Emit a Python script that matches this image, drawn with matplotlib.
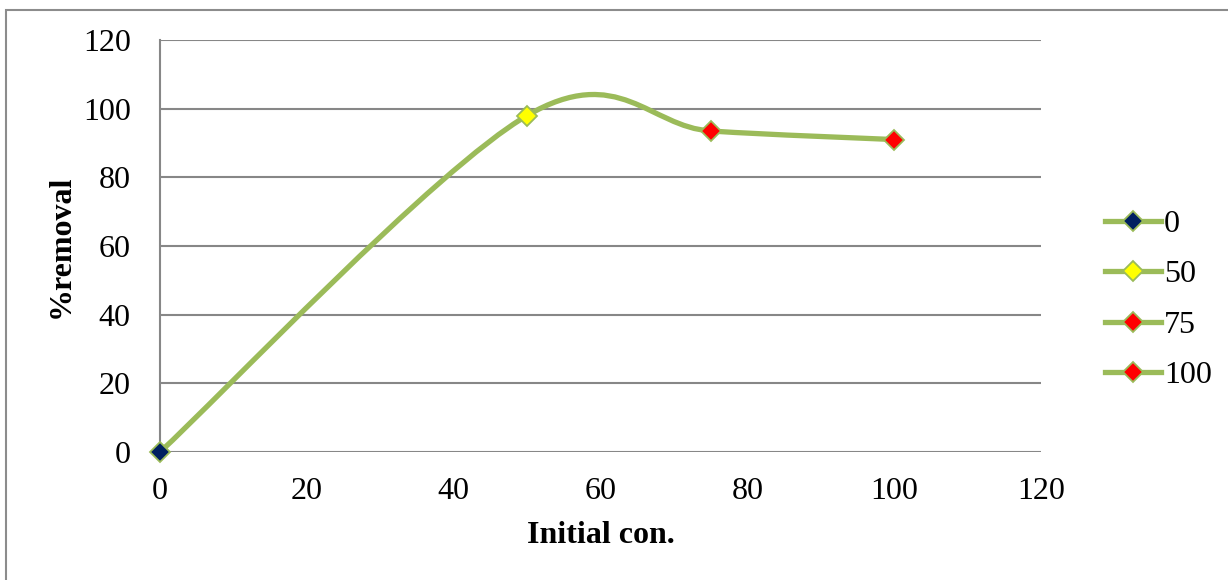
import matplotlib.pyplot as plt
from matplotlib.path import Path
from matplotlib.patches import PathPatch, Rectangle

# data
x_values = [0, 50, 75, 100]
y_values = [0, 98, 93.5, 91]
labels = ['0', '50', '75', '100']
marker_colors = ['#002060', '#FFFF00', '#FF0000', '#FF0000']

line_color = '#9BBB59'
grid_color = '#878787'

plt.rcParams['font.family'] = ['Liberation Serif', 'DejaVu Serif']

fig = plt.figure(figsize=(12.28, 5.80), dpi=100)
ax = fig.add_axes([160 / 1228, 1 - 452 / 580, 881 / 1228, 412 / 580])

# outer chart frame (right and bottom edges are cut off in the original)
fig.patches.append(Rectangle((6 / 1228, -0.05), 1.1, 1 - 9.5 / 580 + 0.05,
                             transform=fig.transFigure, fill=False,
                             edgecolor='#8c8c8c', linewidth=1.5))

# smoothed line, excel-style bezier through the points
pts = list(zip(x_values, y_values))
verts = [pts[0]]
codes = [Path.MOVETO]
for i in range(len(pts) - 1):
    p0 = pts[i]
    p1 = pts[i + 1]
    pm = pts[i - 1] if i > 0 else p0
    pn = pts[i + 2] if i + 2 < len(pts) else p1
    c1 = (p0[0] + (p1[0] - pm[0]) / 6, p0[1] + (p1[1] - pm[1]) / 6)
    c2 = (p1[0] - (pn[0] - p0[0]) / 6, p1[1] - (pn[1] - p0[1]) / 6)
    verts += [c1, c2, p1]
    codes += [Path.CURVE4] * 3
ax.add_patch(PathPatch(Path(verts, codes), fill=False, edgecolor=line_color,
                       linewidth=3.8, capstyle='round', zorder=3))

for i in range(len(x_values)):
    ax.plot([x_values[i]], [y_values[i]], '-', color=line_color, linewidth=3.8,
            marker='D', markersize=10.5, markerfacecolor=marker_colors[i],
            markeredgecolor=line_color, markeredgewidth=1.3,
            label=labels[i], zorder=4, clip_on=False)

ax.set_xlim(0, 120)
ax.set_ylim(0, 120)
ax.set_xticks(range(0, 121, 20))
ax.set_yticks(range(0, 121, 20))
ax.tick_params(length=0, labelsize=23)
ax.tick_params(axis='x', pad=18)
ax.tick_params(axis='y', pad=21)
ax.grid(axis='y', color=grid_color, linewidth=1.5)
ax.set_axisbelow(True)
for s in ['top', 'right', 'bottom']:
    ax.spines[s].set_visible(False)
ax.spines['left'].set_color(grid_color)
ax.spines['left'].set_linewidth(1.5)

ax.set_xlabel('Initial con.', fontsize=23, fontweight='bold', labelpad=11)
ax.set_ylabel('%removal', fontsize=23, fontweight='bold', labelpad=5)

ax.legend(loc='center left', bbox_to_anchor=(1.040, 0.369), frameon=False,
          fontsize=23, handlelength=1.75, handletextpad=0.1, labelspacing=0.66)

fig.savefig('out.png', dpi=100)
